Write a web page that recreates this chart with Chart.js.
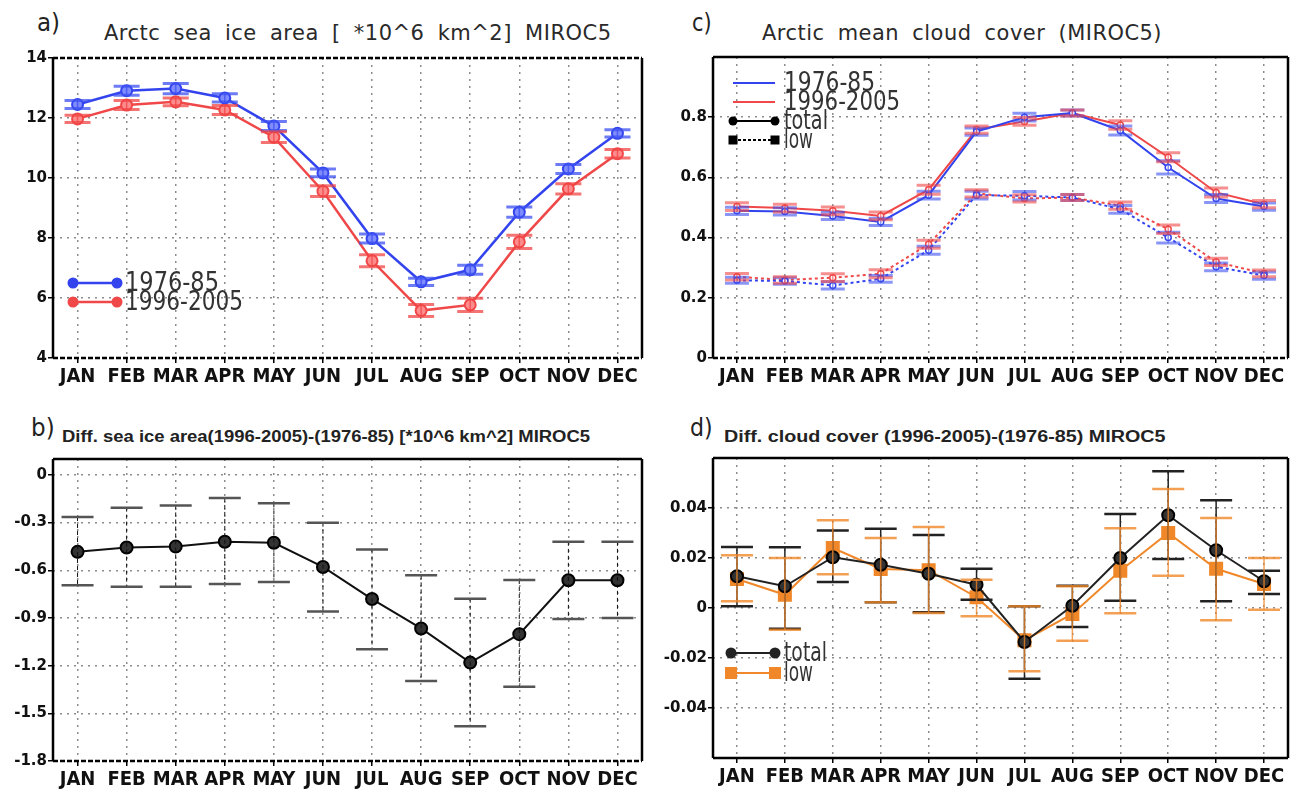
<!DOCTYPE html>
<html>
<head>
<meta charset="utf-8">
<script src="https://cdn.jsdelivr.net/npm/chart.js@4.4.0/dist/chart.umd.min.js"></script>
<style>
  body { margin:0; background:#fff; width:1299px; height:795px; position:relative; overflow:hidden; }
  .box { position:absolute; }
  .t { position:absolute; white-space:nowrap; transform-origin:0 50%; transform:translateY(-50%); color:#222; }
  .big { font-family:"DejaVu Sans", sans-serif; font-size:24px; }
  .tt { font-family:"DejaVu Sans", sans-serif; font-size:21px; letter-spacing:0.5px; word-spacing:6px; color:#2a2a2a; }
  .ts { font-family:"Liberation Sans", Arial, sans-serif; font-size:16px; font-weight:bold; color:#222; }
</style>
</head>
<body>
<div class="t big" style="left:37px;top:23px" data-w="23">a)</div>
<div class="t tt" style="left:104px;top:33px" data-w="508">Arctc sea ice area [ *10^6 km^2] MIROC5</div>
<div class="t big" style="left:692px;top:23px" data-w="20">c)</div>
<div class="t tt" style="left:762px;top:33px" data-w="400">Arctic mean cloud cover (MIROC5)</div>
<div class="t big" style="left:31px;top:428px" data-w="24">b)</div>
<div class="t ts" style="left:62px;top:437px" data-w="528">Diff. sea ice area(1996-2005)-(1976-85) [*10^6 km^2] MIROC5</div>
<div class="t big" style="left:690px;top:428px" data-w="23">d)</div>
<div class="t ts" style="left:724px;top:437px" data-w="441">Diff. cloud cover (1996-2005)-(1976-85) MIROC5</div>

<div class="box" style="left:0;top:0;width:650px;height:395px"><canvas id="cA"></canvas></div>
<div class="box" style="left:0;top:395px;width:650px;height:400px"><canvas id="cB"></canvas></div>
<div class="box" style="left:650px;top:0;width:649px;height:395px"><canvas id="cC"></canvas></div>
<div class="box" style="left:650px;top:395px;width:649px;height:400px"><canvas id="cD"></canvas></div>

<script>
// months on every x axis
const months = ["JAN","FEB","MAR","APR","MAY","JUN","JUL","AUG","SEP","OCT","NOV","DEC"];

// a) sea ice area, 10^6 km^2
const iceEarly    = [12.45, 12.91, 12.98, 12.67, 11.73, 10.17, 7.98, 6.54, 6.94, 8.86, 10.30, 11.49];
const iceLate     = [11.97, 12.43, 12.54, 12.27, 11.36, 9.56, 7.24, 5.58, 5.77, 7.87, 9.64, 10.81];
const iceEarlyErr = [0.13, 0.15, 0.17, 0.14, 0.15, 0.13, 0.15, 0.12, 0.15, 0.17, 0.15, 0.12];
const iceLateErr  = [0.12, 0.15, 0.13, 0.15, 0.18, 0.18, 0.20, 0.20, 0.22, 0.22, 0.17, 0.14];
const ticksA  = [4, 6, 8, 10, 12, 14];
const labelsA = ["4", "6", "8", "10", "12", "14"];

// b) difference of sea ice area
const iceDiff   = [-0.484, -0.457, -0.451, -0.421, -0.427, -0.579, -0.781, -0.966, -1.181, -1.002, -0.663, -0.663];
const iceDiffHi = [-0.265, -0.206, -0.192, -0.145, -0.179, -0.301, -0.469, -0.632, -0.779, -0.661, -0.421, -0.421];
const iceDiffLo = [-0.695, -0.703, -0.703, -0.686, -0.674, -0.859, -1.097, -1.297, -1.581, -1.333, -0.907, -0.901];
const ticksB  = [-1.8, -1.5, -1.2, -0.9, -0.6, -0.3, 0];
const labelsB = ["-1.8", "-1.5", "-1.2", "-0.9", "-0.6", "-0.3", "0"];

// c) cloud cover
const totEarly    = [0.489, 0.487, 0.472, 0.452, 0.541, 0.752, 0.800, 0.814, 0.756, 0.633, 0.530, 0.503];
const totLate     = [0.503, 0.498, 0.489, 0.472, 0.559, 0.759, 0.786, 0.814, 0.774, 0.667, 0.550, 0.511];
const lowEarly    = [0.258, 0.256, 0.241, 0.263, 0.358, 0.541, 0.539, 0.533, 0.494, 0.400, 0.303, 0.274];
const lowLate     = [0.270, 0.259, 0.267, 0.280, 0.378, 0.547, 0.530, 0.533, 0.506, 0.428, 0.319, 0.281];
const totEarlyErr = [0.012, 0.012, 0.012, 0.012, 0.013, 0.012, 0.013, 0.010, 0.015, 0.022, 0.013, 0.012];
const totLateErr  = [0.013, 0.013, 0.013, 0.013, 0.015, 0.012, 0.013, 0.010, 0.014, 0.015, 0.015, 0.012];
const lowEarlyErr = [0.010, 0.011, 0.012, 0.011, 0.013, 0.013, 0.014, 0.010, 0.013, 0.018, 0.013, 0.012];
const lowLateErr  = [0.011, 0.011, 0.013, 0.013, 0.013, 0.012, 0.012, 0.010, 0.012, 0.014, 0.012, 0.011];
const ticksC  = [0, 0.2, 0.4, 0.6, 0.8];
const labelsC = ["0", "0.2", "0.4", "0.6", "0.8"];

// d) difference of cloud cover
const dTot   = [0.0127, 0.0087, 0.0203, 0.0173, 0.0137, 0.0093, -0.0136, 0.0009, 0.0200, 0.0371, 0.0231, 0.0107];
const dTotHi = [0.0244, 0.0243, 0.0310, 0.0317, 0.0292, 0.0157, 0.0007, 0.0089, 0.0376, 0.0547, 0.0431, 0.0149];
const dTotLo = [0.0007, -0.0083, 0.0104, 0.0023, -0.0017, 0.0033, -0.0283, -0.0076, 0.0029, 0.0196, 0.0027, 0.0056];
const dLow   = [0.0116, 0.0053, 0.0240, 0.0156, 0.0151, 0.0043, -0.0129, -0.0024, 0.0149, 0.0300, 0.0157, 0.0096];
const dLowHi = [0.0211, 0.0200, 0.0351, 0.0280, 0.0324, 0.0113, 0.0007, 0.0087, 0.0319, 0.0476, 0.0360, 0.0200];
const dLowLo = [0.0027, -0.0087, 0.0135, 0.0023, -0.0020, -0.0033, -0.0253, -0.0131, -0.0021, 0.0129, -0.0049, -0.0007];
const ticksD  = [-0.04, -0.02, 0, 0.02, 0.04];
const labelsD = ["-0.04", "-0.02", "0", "0.02", "0.04"];

const BLUE = "#3344ee", RED = "#f04848", ORANGE = "#f0882a";
const narrow = '"Liberation Sans Narrow", "DejaVu Sans Condensed", sans-serif';

// error bars from the dataset's hi/lo arrays
const errorBars = {
  id: "errorBars",
  afterDatasetsDraw(chart) {
    const ctx = chart.ctx, ys = chart.scales.y;
    chart.data.datasets.forEach((ds, i) => {
      if (!ds.hi) return;
      const pts = chart.getDatasetMeta(i).data;
      ctx.save();
      pts.forEach((p, j) => {
        const yt = ys.getPixelForValue(ds.hi[j]);
        const yb = ys.getPixelForValue(ds.lo[j]);
        ctx.strokeStyle = ds.stemColor || ds.capColor;
        ctx.lineWidth = ds.stemWidth || 1.5;
        ctx.setLineDash(ds.stemDash || []);
        ctx.beginPath(); ctx.moveTo(p.x, yt); ctx.lineTo(p.x, yb); ctx.stroke();
        ctx.setLineDash([]);
        ctx.strokeStyle = ds.capColor;
        ctx.lineWidth = ds.capWidth;
        ctx.beginPath();
        ctx.moveTo(p.x - ds.cap, yt); ctx.lineTo(p.x + ds.cap, yt);
        ctx.moveTo(p.x - ds.cap, yb); ctx.lineTo(p.x + ds.cap, yb);
        ctx.stroke();
      });
      ctx.restore();
    });
  }
};

// legend drawn inside the plot, like the original
const keyLegend = {
  id: "keyLegend",
  afterDraw(chart, args, opts) {
    const ctx = chart.ctx;
    (opts.items || []).forEach(it => {
      ctx.save();
      ctx.strokeStyle = it.color; ctx.lineWidth = it.lw || 2;
      ctx.setLineDash(it.dash || []);
      ctx.beginPath(); ctx.moveTo(it.x1, it.y); ctx.lineTo(it.x2, it.y); ctx.stroke();
      ctx.setLineDash([]);
      ctx.fillStyle = it.color;
      if (it.marker === "circle") {
        [it.x1, it.x2].forEach(x => { ctx.beginPath(); ctx.arc(x, it.y, it.ms, 0, 2 * Math.PI); ctx.fill(); });
      } else if (it.marker === "square") {
        [it.x1, it.x2].forEach(x => ctx.fillRect(x - it.ms, it.y - it.ms, 2 * it.ms, 2 * it.ms));
      }
      ctx.font = "26px " + narrow;
      ctx.fillStyle = "#333";
      ctx.textBaseline = "middle";
      const w = ctx.measureText(it.text).width;
      ctx.translate(it.tx, it.y + 1);
      ctx.scale(it.tw / w, 1);
      ctx.fillText(it.text, 0, 0);
      ctx.restore();
    });
  }
};

// black box round the plot area, some sides dashed
const frame = {
  id: "frame",
  afterDraw(chart, args, opts) {
    const { left, right, top, bottom } = chart.chartArea;
    const ctx = chart.ctx;
    const sides = {
      top: [left, top, right, top], bottom: [left, bottom, right, bottom],
      left: [left, top, left, bottom], right: [right, top, right, bottom]
    };
    ctx.save();
    ctx.strokeStyle = "#000"; ctx.lineWidth = 2.5;
    Object.keys(sides).forEach(k => {
      const s = sides[k];
      ctx.setLineDash((opts.dashed || []).includes(k) ? [5, 2] : []);
      ctx.beginPath(); ctx.moveTo(s[0], s[1]); ctx.lineTo(s[2], s[3]); ctx.stroke();
    });
    ctx.restore();
  }
};

function panel(id, cfg) {
  const grid = { color: "#8c8c8c", lineWidth: 1.5, tickColor: "#000", tickLength: 5, tickWidth: 1.5, tickBorderDash: [], offset: false };
  const border = { display: false, dash: [2, 5] };
  return new Chart(document.getElementById(id), {
    type: "line",
    data: { labels: months, datasets: cfg.datasets },
    options: {
      responsive: true, maintainAspectRatio: false, animation: false,
      layout: { padding: { top: cfg.top, right: cfg.right, left: 0, bottom: 0 } },
      plugins: {
        legend: { display: false }, tooltip: { enabled: false },
        keyLegend: { items: cfg.legend }, frame: { dashed: cfg.dashed }
      },
      scales: {
        x: {
          offset: true, grid: grid, border: border,
          ticks: { font: { family: narrow, size: 20, weight: "bold" }, color: "#111", padding: 2, maxRotation: 0, autoSkip: false },
          afterFit: s => { s.height = cfg.xh; }
        },
        y: {
          min: cfg.min, max: cfg.max, grid: grid, border: border,
          afterBuildTicks: s => { s.ticks = cfg.ticks.map(v => ({ value: v })); },
          ticks: { callback: (v, i) => cfg.labels[i], font: { family: '"DejaVu Sans", sans-serif', size: 15, weight: "bold" }, color: "#111", padding: 1, autoSkip: false },
          afterFit: s => { s.width = cfg.yw; }
        }
      }
    },
    plugins: [errorBars, keyLegend, frame]
  });
}

function sym(v, e) { return { hi: v.map((x, i) => x + e[i]), lo: v.map((x, i) => x - e[i]) }; }

// a)
const eA1 = sym(iceEarly, iceEarlyErr), eA2 = sym(iceLate, iceLateErr);
panel("cA", {
  top: 58, right: 8, yw: 53, xh: 37, min: 4, max: 14, ticks: ticksA, labels: labelsA, dashed: ["top", "bottom"],
  datasets: [
    { data: iceEarly, borderColor: BLUE, borderWidth: 2.5, pointRadius: 5.5, pointBackgroundColor: "#7f8cff", pointBorderColor: BLUE, pointBorderWidth: 2,
      hi: eA1.hi, lo: eA1.lo, cap: 13, capWidth: 3, capColor: "rgba(60,80,240,0.75)" },
    { data: iceLate, borderColor: RED, borderWidth: 2.5, pointRadius: 5.5, pointBackgroundColor: "#ff8c8c", pointBorderColor: RED, pointBorderWidth: 2,
      hi: eA2.hi, lo: eA2.lo, cap: 13, capWidth: 3, capColor: "rgba(240,70,70,0.75)" }
  ],
  legend: [
    { x1: 73, x2: 117, y: 283, color: BLUE, lw: 2.5, marker: "circle", ms: 5.5, text: "1976-85", tx: 125, tw: 94 },
    { x1: 73, x2: 117, y: 302, color: RED, lw: 2.5, marker: "circle", ms: 5.5, text: "1996-2005", tx: 125, tw: 118 }
  ]
});

// b)
panel("cB", {
  top: 64, right: 8, yw: 53, xh: 34, min: -1.8, max: 0.1, ticks: ticksB, labels: labelsB, dashed: ["bottom"],
  datasets: [
    { data: iceDiff, borderColor: "#111", borderWidth: 2, pointRadius: 6, pointBackgroundColor: "#333", pointBorderColor: "#000", pointBorderWidth: 2,
      hi: iceDiffHi, lo: iceDiffLo, cap: 16, capWidth: 2.5, capColor: "#555", stemColor: "#111", stemWidth: 1, stemDash: [4, 3] }
  ],
  legend: []
});

// c)
const eC1 = sym(totEarly, totEarlyErr), eC2 = sym(totLate, totLateErr);
const eC3 = sym(lowEarly, lowEarlyErr), eC4 = sym(lowLate, lowLateErr);
const cPts = { pointRadius: 3, pointBackgroundColor: "#fff", pointBorderWidth: 1.5 };
panel("cC", {
  top: 57, right: 11, yw: 63, xh: 37, min: 0, max: 1.0, ticks: ticksC, labels: labelsC, dashed: ["bottom"],
  datasets: [
    Object.assign({ data: totEarly, borderColor: BLUE, borderWidth: 2, pointBorderColor: BLUE,
      hi: eC1.hi, lo: eC1.lo, cap: 12, capWidth: 3, capColor: "rgba(60,80,240,0.6)" }, cPts),
    Object.assign({ data: lowEarly, borderColor: BLUE, borderWidth: 2, borderDash: [3, 3], pointBorderColor: BLUE,
      hi: eC3.hi, lo: eC3.lo, cap: 12, capWidth: 3, capColor: "rgba(60,80,240,0.6)" }, cPts),
    Object.assign({ data: totLate, borderColor: RED, borderWidth: 2, pointBorderColor: RED,
      hi: eC2.hi, lo: eC2.lo, cap: 12, capWidth: 3, capColor: "rgba(240,70,70,0.6)" }, cPts),
    Object.assign({ data: lowLate, borderColor: RED, borderWidth: 2, borderDash: [3, 3], pointBorderColor: RED,
      hi: eC4.hi, lo: eC4.lo, cap: 12, capWidth: 3, capColor: "rgba(240,70,70,0.6)" }, cPts)
  ],
  legend: [
    { x1: 83, x2: 125, y: 83, color: BLUE, lw: 2, text: "1976-85", tx: 134, tw: 91 },
    { x1: 83, x2: 125, y: 102, color: RED, lw: 2, text: "1996-2005", tx: 134, tw: 116 },
    { x1: 83, x2: 125, y: 121, color: "#000", lw: 2, marker: "circle", ms: 4.5, text: "total", tx: 134, tw: 44 },
    { x1: 83, x2: 125, y: 140, color: "#000", lw: 2, dash: [3, 2], marker: "square", ms: 4.5, text: "low", tx: 134, tw: 29 }
  ]
});

// d)
panel("cD", {
  top: 63, right: 11, yw: 63, xh: 37, min: -0.06, max: 0.06, ticks: ticksD, labels: labelsD, dashed: [],
  datasets: [
    { data: dTot, borderColor: "#222", borderWidth: 2, pointRadius: 6, pointBackgroundColor: "#333", pointBorderColor: "#000", pointBorderWidth: 2,
      hi: dTotHi, lo: dTotLo, cap: 16, capWidth: 2.5, capColor: "#222", stemWidth: 1.5 },
    { data: dLow, borderColor: ORANGE, borderWidth: 2, pointStyle: "rect", pointRadius: 8.5, pointBackgroundColor: ORANGE, pointBorderColor: ORANGE,
      hi: dLowHi, lo: dLowLo, cap: 16, capWidth: 2.5, capColor: "rgba(240,136,42,0.8)", stemWidth: 1.5 }
  ],
  legend: [
    { x1: 81, x2: 125, y: 258, color: "#222", lw: 2, marker: "circle", ms: 5.5, text: "total", tx: 134, tw: 43 },
    { x1: 81, x2: 125, y: 278, color: ORANGE, lw: 2, marker: "square", ms: 6, text: "low", tx: 134, tw: 29 }
  ]
});

// stretch the titles to the widths seen in the original
document.querySelectorAll("[data-w]").forEach(el => {
  const w = el.offsetWidth;
  el.style.transform = "translateY(-50%) scaleX(" + (el.dataset.w / w) + ")";
});
</script>
</body>
</html>
